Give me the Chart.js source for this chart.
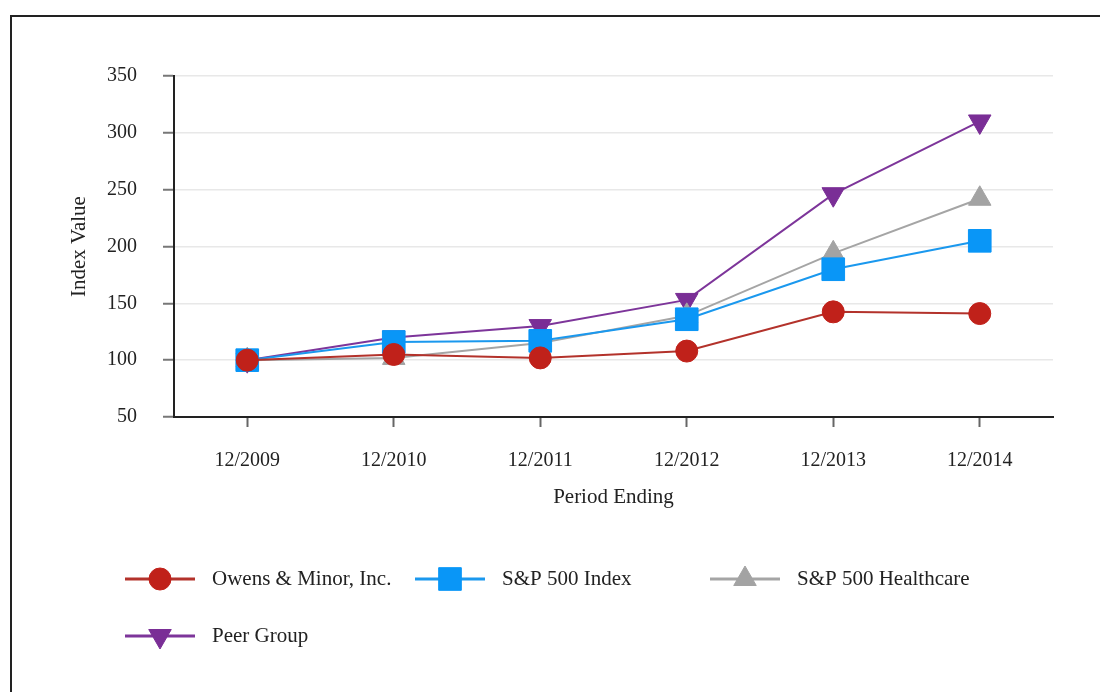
<!DOCTYPE html>
<html>
<head>
<meta charset="utf-8">
<script src="https://cdn.jsdelivr.net/npm/chart.js@4"></script>
<style>
    html, body { margin: 0; padding: 0; background: #fff; }
    #wrap { position: relative; width: 1100px; height: 692px; overflow: hidden; }
    #frame { position: absolute; left: 10px; top: 15px; width: 1200px; height: 800px; border: 2px solid #222; box-sizing: border-box; }
    canvas { position: absolute; left: 0; top: 0; }
</style>
</head>
<body>
<div id="wrap">
    <div id="frame"></div>
    <canvas id="chart" width="1100" height="692"></canvas>
</div>
<script>
// Total return index values, base 100 at 12/2009
const periods = ['12/2009', '12/2010', '12/2011', '12/2012', '12/2013', '12/2014'];
const owensMinor = [100, 105, 102, 108, 142.5, 141];
const sp500 = [100, 116, 117, 136, 180, 205];
const spHealthcare = [100, 102, 115, 139, 194, 242];
const peerGroup = [100, 120, 130, 153, 246, 310];
const yTicks = [50, 100, 150, 200, 250, 300, 350];

const serif = "'Liberation Serif', 'DejaVu Serif', serif";

// legend slots: [line start x, middle y]
const legendSlots = [[125, 579], [415, 579], [710, 579], [125, 636]];

const legendPlugin = {
    id: 'sideLegend',
    afterDraw(chart) {
        const ctx = chart.ctx;
        chart.data.datasets.forEach((ds, i) => {
            const [x, y] = legendSlots[i];
            ctx.save();
            ctx.strokeStyle = ds.borderColor;
            ctx.lineWidth = 3;
            ctx.beginPath();
            ctx.moveTo(x, y);
            ctx.lineTo(x + 70, y);
            ctx.stroke();
            ctx.fillStyle = ds.pointBackgroundColor;
            ctx.strokeStyle = ds.pointBackgroundColor;
            ctx.lineWidth = 1;
            Chart.helpers.drawPoint(ctx, {
                pointStyle: ds.pointStyle,
                radius: ds.pointRadius,
                rotation: ds.pointRotation || 0,
                borderWidth: 1
            }, x + 35, y);
            ctx.fillStyle = '#222';
            ctx.font = '21px ' + serif;
            ctx.textBaseline = 'middle';
            ctx.fillText(ds.label, x + 87, y);
            ctx.restore();
        });
    }
};

function series(label, data, color, pointColor, style, radius, rotation) {
    return {
        label: label,
        data: data,
        borderColor: color,
        borderWidth: 2,
        pointStyle: style,
        pointRadius: radius,
        pointHoverRadius: radius,
        pointRotation: rotation || 0,
        pointBackgroundColor: pointColor,
        pointBorderColor: pointColor,
        pointBorderWidth: 1,
        tension: 0,
        fill: false
    };
}

new Chart(document.getElementById('chart'), {
    type: 'line',
    data: {
        labels: periods,
        datasets: [
            series('Owens & Minor, Inc.', owensMinor, '#b3322b', '#c0211a', 'circle', 11),
            series('S&P 500 Index', sp500, '#1a98ee', '#0996f7', 'rect', 16),
            series('S&P 500 Healthcare', spHealthcare, '#a5a5a5', '#a3a3a3', 'triangle', 13),
            series('Peer Group', peerGroup, '#7d359a', '#7a2e96', 'triangle', 13, 180)
        ]
    },
    options: {
        responsive: false,
        animation: false,
        layout: { padding: { left: 67, top: 76, right: 47, bottom: 175 } },
        plugins: {
            legend: { display: false },
            tooltip: { enabled: false }
        },
        scales: {
            x: {
                offset: true,
                afterFit: (scale) => { scale.height = 100; },
                border: { color: '#222', width: 2 },
                grid: { drawOnChartArea: false, drawTicks: true, tickLength: 10, tickColor: '#666', tickWidth: 2 },
                ticks: { color: '#222', font: { family: serif, size: 20 }, padding: 22 },
                title: { display: true, text: 'Period Ending', color: '#222', font: { family: serif, size: 21 }, padding: { top: 4, bottom: 7 } }
            },
            y: {
                min: 50,
                max: 350,
                afterFit: (scale) => { scale.width = 107; },
                afterBuildTicks: (scale) => { scale.ticks = yTicks.map(v => ({ value: v })); },
                border: { color: '#222', width: 2 },
                grid: { color: '#e8e8e8', lineWidth: 1.5, tickLength: 11, tickColor: '#777', tickWidth: 2 },
                ticks: { color: '#222', font: { family: serif, size: 20 }, padding: 26 },
                title: { display: true, text: 'Index Value', color: '#222', font: { family: serif, size: 21 }, padding: 0 }
            }
        }
    },
    plugins: [legendPlugin]
});
</script>
</body>
</html>
